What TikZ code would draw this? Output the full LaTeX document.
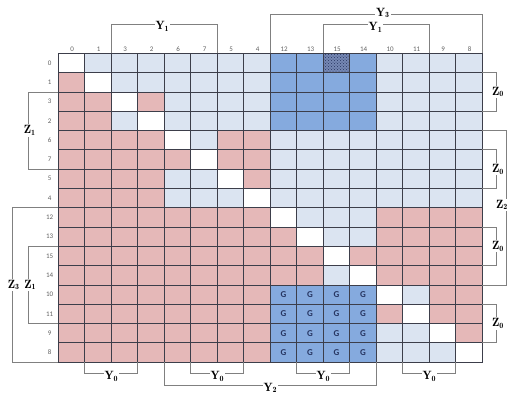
\documentclass[tikz,border=0pt]{standalone}
\usepackage{fontspec}
\newfontfamily\idxfont{Carlito}
\definecolor{CellBlue}{RGB}{219,228,241}
\definecolor{CellRed}{RGB}{229,184,184}
\definecolor{DeepBlue}{RGB}{133,170,222}
\definecolor{HatchBlue}{RGB}{118,136,180}
\definecolor{GridGray}{RGB}{60,62,74}
\definecolor{BrkGray}{RGB}{128,128,128}
\definecolor{IdxGray}{RGB}{95,95,95}
\definecolor{GNavy}{RGB}{38,52,96}
\usetikzlibrary{patterns}

\begin{document}
\begin{tikzpicture}[x=26.5pt,y=-19.3pt,
    cell/.style={draw=GridGray,line width=0.65pt},
    cW/.style={cell,fill=white},
    cB/.style={cell,fill=CellBlue},
    cR/.style={cell,fill=CellRed},
    cD/.style={cell,fill=DeepBlue},
    cH/.style={cell,fill=HatchBlue,postaction={pattern=crosshatch dots,pattern color=GNavy}},
    gtxt/.style={font=\idxfont\bfseries\fontsize{9}{10}\selectfont,text=GNavy},
    idx/.style={font=\idxfont\fontsize{7}{8}\selectfont,text=IdxGray},
    brk/.style={draw=BrkGray,line width=0.8pt},
    tag/.style={fill=white,inner sep=1pt,font=\fontsize{12}{14}\selectfont}]
  \useasboundingbox (-2.2,-2.762) rectangle (17.045,17.705);
  \foreach \cells [count=\i from 0] in {
      {W,B,B,B,B,B,B,B,D,D,H,D,B,B,B,B},
      {R,W,B,B,B,B,B,B,D,D,D,D,B,B,B,B},
      {R,R,W,R,B,B,B,B,D,D,D,D,B,B,B,B},
      {R,R,B,W,B,B,B,B,D,D,D,D,B,B,B,B},
      {R,R,R,R,W,B,R,R,B,B,B,B,B,B,B,B},
      {R,R,R,R,R,W,R,R,B,B,B,B,B,B,B,B},
      {R,R,R,R,B,B,W,R,B,B,B,B,B,B,B,B},
      {R,R,R,R,B,B,B,W,B,B,B,B,B,B,B,B},
      {R,R,R,R,R,R,R,R,W,B,B,B,R,R,R,R},
      {R,R,R,R,R,R,R,R,R,W,B,B,R,R,R,R},
      {R,R,R,R,R,R,R,R,R,R,W,R,R,R,R,R},
      {R,R,R,R,R,R,R,R,R,R,B,W,R,R,R,R},
      {R,R,R,R,R,R,R,R,D,D,D,D,W,B,R,R},
      {R,R,R,R,R,R,R,R,D,D,D,D,R,W,R,R},
      {R,R,R,R,R,R,R,R,D,D,D,D,B,B,W,R},
      {R,R,R,R,R,R,R,R,D,D,D,D,B,B,B,W}}
    \foreach \c [count=\j from 0] in \cells
      \path[c\c] (\j,\i) rectangle ++(1,1);
  \foreach \i in {12,...,15}
    \foreach \j in {8,...,11}
      \node[gtxt] (g-\i-\j) at (\j+.5,\i+.5) {G};
  \foreach \n [count=\k from 0] in {0,1,3,2,6,7,5,4,12,13,15,14,10,11,9,8} {
    \node[idx] (col\k) at (\k+.52,-.22) {\n};
    \node[idx] (row\k) at (-.33,\k+.5) {\n};
  }
  \foreach \k in {0,...,16} {
    \coordinate (top\k) at (\k,0);
    \coordinate (bot\k) at (\k,16);
    \coordinate (lft\k) at (0,\k);
    \coordinate (rgt\k) at (16,\k);
  }
  \draw[brk] (top2) -- ++(0,-1.5) -| (top6);
  \draw[brk] (top8) -- ++(0,-2.04) -| (top16);
  \draw[brk] (top10) -- ++(0,-1.5) -| (top14);
  \draw[brk] (rgt4) -- ++(.92,0) |- (rgt12);
  \foreach \a/\b in {1/3,5/7,9/11,13/15}
    \draw[brk] (rgt\a) -- ++(.54,0) |- (rgt\b);
  \draw[brk] (lft2) -- ++(-1.14,0) |- (lft6);
  \draw[brk] (lft8) -- ++(-1.74,0) |- (lft16);
  \draw[brk] (lft10) -- ++(-1.14,0) |- (lft14);
  \draw[brk] (bot4) -- ++(0,1.19) -| (bot12);
  \foreach \a/\b in {1/3,5/7,9/11,13/15}
    \draw[brk] (bot\a) -- ++(0,.58) -| (bot\b);
  \node[tag] (ytl) at (3.93,-1.39) {$\mathbf{Y_1}$};
  \node[tag] (ytr) at (11.97,-1.36) {$\mathbf{Y_1}$};
  \node[tag] (y3) at (12.25,-2.09) {$\mathbf{Y_3}$};
  \node[tag] (z2) at (16.74,7.85) {$\mathbf{Z_2}$};
  \foreach \r [count=\k] in {2,6,10,14}
    \node[tag] (z0-\k) at (16.59,\r) {$\mathbf{Z_0}$};
  \node[tag] (z1a) at (-1.08,4) {$\mathbf{Z_1}$};
  \node[tag] (z3) at (-1.68,12) {$\mathbf{Z_3}$};
  \node[tag] (z1b) at (-1.06,12) {$\mathbf{Z_1}$};
  \foreach \c [count=\k] in {2,6,10,14}
    \node[tag] (y0-\k) at (\c,16.74) {$\mathbf{Y_0}$};
  \node[tag] (y2) at (8,17.33) {$\mathbf{Y_2}$};
\end{tikzpicture}
\end{document}
